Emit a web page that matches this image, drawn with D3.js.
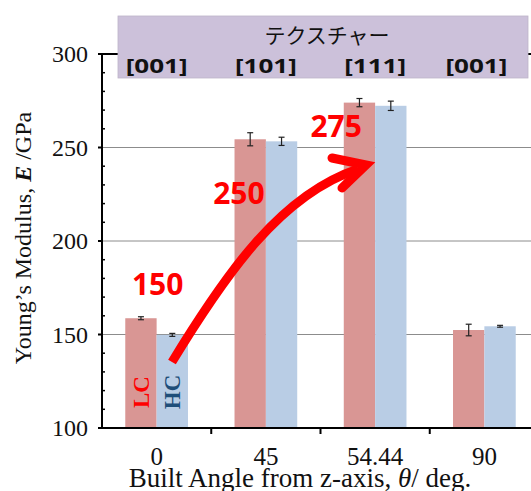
<!DOCTYPE html>
<html>
<head>
<meta charset="utf-8">
<script src="https://cdn.jsdelivr.net/npm/d3@7"></script>
<style>
  body { margin: 0; background: #fff; }
  svg { display: block; }
</style>
</head>
<body>
<div id="chart"></div>
<script>
const angles = ['0', '45', '54.44', '90']
const textures = ['[001]', '[101]', '[111]', '[001]']
const series = ['LC', 'HC']
const lcValues = [158.7, 254.4, 274.0, 152.4]
const lcErrors = [0.8, 3.5, 2.2, 3.1]
const hcValues = [149.8, 253.3, 272.3, 154.4]
const hcErrors = [0.8, 2.2, 2.5, 0.5]
const yTicks = [100, 150, 200, 250, 300]
// callout labels, anchored at a value on the y scale (baseline)
const callouts = [
  { label: '150', angle: '0', value: 171, dx: 1 },
  { label: '250', angle: '45', value: 220, dx: -27 },
  { label: '275', angle: '54.44', value: 255.5, dx: -39 }
]

const width = 531
const height = 491
const margin = { top: 54, left: 102, bottom: 63 }
const plotRight = 539
const plotBottom = height - margin.bottom

const colors = { LC: '#d99694', HC: '#b9cde5' }
const serif = '"Liberation Serif", "Times New Roman", serif'
const sans = '"Open Sans", "Liberation Sans", sans-serif'

const svg = d3.select('#chart')
  .append('svg')
  .attr('width', width)
  .attr('height', height)

const x0 = d3.scaleBand()
  .domain(angles)
  .range([margin.left, plotRight])
  .paddingInner(0.426)
  .paddingOuter(0.213)

const x1 = d3.scaleBand()
  .domain(series)
  .range([0, x0.bandwidth()])

const y = d3.scaleLinear()
  .domain([100, 300])
  .range([plotBottom, margin.top])

// gridlines
svg.append('g')
  .selectAll('line')
  .data(yTicks.filter(d => d > 100 && d < 300))
  .join('line')
  .attr('x1', margin.left).attr('x2', width)
  .attr('y1', d => y(d)).attr('y2', d => y(d))
  .attr('stroke', '#8c8c8c')
  .attr('stroke-width', 1)

// top frame
svg.append('line')
  .attr('x1', margin.left).attr('x2', width)
  .attr('y1', y(300)).attr('y2', y(300))
  .attr('stroke', '#000').attr('stroke-width', 2)

// bars
const rows = angles.map((a, i) => ({
  angle: a,
  items: [
    { key: 'LC', value: lcValues[i], err: lcErrors[i] },
    { key: 'HC', value: hcValues[i], err: hcErrors[i] }
  ]
}))

const groups = svg.append('g')
  .selectAll('g')
  .data(rows)
  .join('g')
  .attr('transform', d => `translate(${x0(d.angle)},0)`)

groups.selectAll('rect')
  .data(d => d.items)
  .join('rect')
  .attr('x', d => x1(d.key))
  .attr('y', d => y(d.value))
  .attr('width', x1.bandwidth())
  .attr('height', d => y(100) - y(d.value))
  .attr('fill', d => colors[d.key])

// error bars
const eb = groups.selectAll('g.err')
  .data(d => d.items)
  .join('g')
  .attr('class', 'err')
  .attr('stroke', '#222')
  .attr('stroke-width', 1.2)
eb.append('line')
  .attr('x1', d => x1(d.key) + x1.bandwidth() / 2)
  .attr('x2', d => x1(d.key) + x1.bandwidth() / 2)
  .attr('y1', d => y(d.value + d.err))
  .attr('y2', d => y(d.value - d.err))
eb.selectAll('line.cap')
  .data(d => [d.value + d.err, d.value - d.err].map(v => ({ key: d.key, v })))
  .join('line')
  .attr('class', 'cap')
  .attr('x1', d => x1(d.key) + x1.bandwidth() / 2 - 3)
  .attr('x2', d => x1(d.key) + x1.bandwidth() / 2 + 3)
  .attr('y1', d => y(d.v))
  .attr('y2', d => y(d.v))

// y axis
const yAxis = svg.append('g')
yAxis.append('line')
  .attr('x1', margin.left).attr('x2', margin.left)
  .attr('y1', y(300) - 1).attr('y2', y(100) + 1)
  .attr('stroke', '#000').attr('stroke-width', 2)
yAxis.selectAll('line.minor')
  .data(d3.range(110, 300, 10).filter(v => v % 50 !== 0))
  .join('line')
  .attr('class', 'minor')
  .attr('x1', margin.left).attr('x2', margin.left + 3)
  .attr('y1', d => y(d)).attr('y2', d => y(d))
  .attr('stroke', '#000').attr('stroke-width', 1.5)
yAxis.selectAll('line.major')
  .data(yTicks)
  .join('line')
  .attr('class', 'major')
  .attr('x1', margin.left - 4).attr('x2', margin.left)
  .attr('y1', d => y(d)).attr('y2', d => y(d))
  .attr('stroke', '#000').attr('stroke-width', 2)
yAxis.selectAll('text')
  .data(yTicks)
  .join('text')
  .attr('x', margin.left - 14)
  .attr('y', d => y(d))
  .attr('dy', '0.35em')
  .attr('text-anchor', 'end')
  .attr('font-family', serif)
  .attr('font-size', 24)
  .attr('fill', '#111')
  .text(d => d)

// y title
const yTitle = svg.append('text')
  .attr('transform', `translate(31,238) rotate(-90)`)
  .attr('text-anchor', 'middle')
  .attr('font-family', serif)
  .attr('font-size', 24)
  .attr('fill', '#111')
yTitle.append('tspan').text('Young’s Modulus, ')
yTitle.append('tspan').attr('font-weight', 'bold').attr('font-style', 'italic').text('E')
yTitle.append('tspan').text(' /GPa')

// x axis
svg.append('line')
  .attr('x1', margin.left - 1).attr('x2', width)
  .attr('y1', plotBottom).attr('y2', plotBottom)
  .attr('stroke', '#000').attr('stroke-width', 2)
svg.selectAll('line.xtick')
  .data(angles.slice(1))
  .join('line')
  .attr('class', 'xtick')
  .attr('x1', d => x0(d) - x0.step() * x0.paddingInner() / 2)
  .attr('x2', d => x0(d) - x0.step() * x0.paddingInner() / 2)
  .attr('y1', plotBottom).attr('y2', plotBottom + 6)
  .attr('stroke', '#000').attr('stroke-width', 2)
svg.selectAll('text.xlab')
  .data(angles)
  .join('text')
  .attr('class', 'xlab')
  .attr('x', d => x0(d) + x0.bandwidth() / 2)
  .attr('y', 465)
  .attr('text-anchor', 'middle')
  .attr('font-family', serif)
  .attr('font-size', 25)
  .attr('fill', '#111')
  .text(d => d)

const xTitle = svg.append('text')
  .attr('x', 300)
  .attr('y', 487)
  .attr('text-anchor', 'middle')
  .attr('font-family', serif)
  .attr('font-size', 27)
  .attr('fill', '#111')
xTitle.append('tspan').text('Built Angle from z-axis, ')
xTitle.append('tspan').attr('font-style', 'italic').text('θ')
xTitle.append('tspan').text('/ deg.')

// texture header
svg.append('rect')
  .attr('x', 118).attr('y', 16)
  .attr('width', 410).attr('height', 62)
  .attr('fill', '#ccc1da')
  .attr('stroke', '#bdb3c9')
  .attr('stroke-width', 0.8)
svg.append('text')
  .attr('x', 327).attr('y', 43)
  .attr('text-anchor', 'middle')
  .attr('font-family', '"Noto Sans CJK JP", sans-serif')
  .attr('font-size', 21)
  .attr('fill', '#111')
  .text('テクスチャー')
svg.selectAll('text.tex')
  .data(textures)
  .join('text')
  .attr('class', 'tex')
  .attr('x', (d, i) => x0(angles[i]) + x0.bandwidth() / 2 - (i === 3 ? 8 : 0) - 31)
  .attr('y', 73)
  .attr('textLength', 62)
  .attr('lengthAdjust', 'spacingAndGlyphs')
  .attr('font-family', sans)
  .attr('font-weight', 'bold')
  .attr('font-size', 20)
  .attr('fill', '#111')
  .text(d => d)

// LC / HC labels
groups.filter((d, i) => i === 0)
  .selectAll('text.ser')
  .data(d => d.items)
  .join('text')
  .attr('class', 'ser')
  .attr('transform', d => `translate(${x1(d.key) + x1.bandwidth() / 2 + 8},392) rotate(-90)`)
  .attr('text-anchor', 'middle')
  .attr('font-family', serif)
  .attr('font-weight', 'bold')
  .attr('font-size', 23)
  .attr('fill', d => d.key === 'LC' ? '#ff0000' : '#1f4e79')
  .text(d => d.key)

// arrow
svg.append('path')
  .attr('d', 'M172,362 C225,275 280,195 358,169')
  .attr('fill', 'none')
  .attr('stroke', '#ff0000')
  .attr('stroke-width', 9)
svg.append('path')
  .attr('d', 'M332,158 L366,165 L342,188')
  .attr('fill', 'none')
  .attr('stroke', '#ff0000')
  .attr('stroke-width', 9)
  .attr('stroke-linecap', 'round')
  .attr('stroke-linejoin', 'miter')

// callouts
svg.selectAll('text.callout')
  .data(callouts)
  .join('text')
  .attr('class', 'callout')
  .attr('x', d => x0(d.angle) + x0.bandwidth() / 2 + d.dx)
  .attr('y', d => y(d.value))
  .attr('text-anchor', 'middle')
  .attr('font-family', sans)
  .attr('font-weight', 'bold')
  .attr('font-size', 30)
  .attr('fill', '#ff0000')
  .text(d => d.label)
</script>
</body>
</html>
